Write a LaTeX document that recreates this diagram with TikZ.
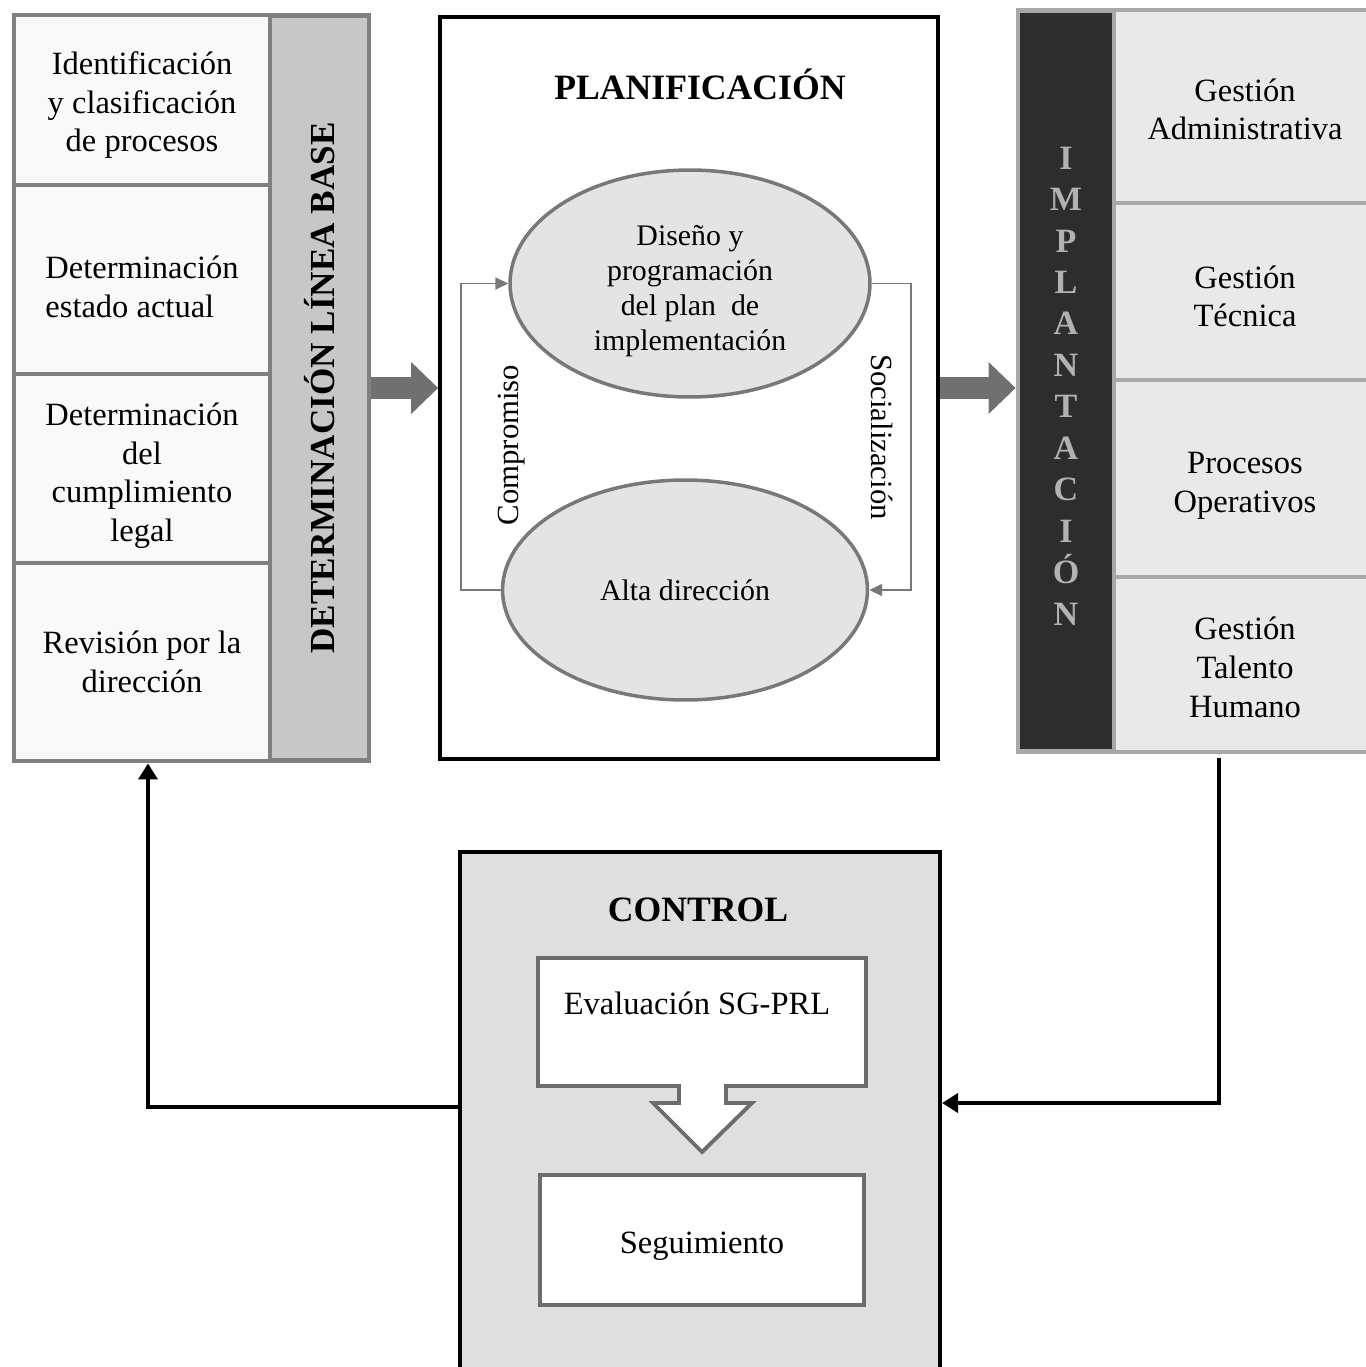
\documentclass[tikz,border=0pt]{standalone}
\usepackage{fontspec}
\setmainfont{Liberation Serif}
\usepackage{tikz}
\usetikzlibrary{positioning, arrows.meta, shapes.geometric}
\definecolor{lineGray}{RGB}{128,128,128}
\definecolor{cellWhite}{RGB}{249,249,249}
\definecolor{barGray}{RGB}{199,199,199}
\definecolor{fatGray}{RGB}{112,112,112}
\definecolor{ovalFill}{RGB}{228,228,228}
\definecolor{ovalLine}{RGB}{120,120,120}
\definecolor{implLine}{RGB}{168,168,168}
\definecolor{implDark}{RGB}{45,45,45}
\definecolor{implCell}{RGB}{233,233,233}
\definecolor{implText}{RGB}{178,178,178}
\definecolor{ctrlFill}{RGB}{223,223,223}
\definecolor{boxLine}{RGB}{108,108,108}
\newcommand{\padtop}[1]{\rule{0pt}{#1}}

\begin{document}
\begin{tikzpicture}[
  x=0.02cm, y=-0.02cm,
  every node/.style={font=\fontsize{18.5}{22}\selectfont},
  lcell/.style={draw=lineGray, line width=2.8pt, fill=cellWhite, minimum width=5.12cm, align=center, inner sep=0pt},
  basebar/.style={draw=lineGray, line width=2.8pt, fill=barGray, minimum width=1.98cm, minimum height=14.92cm},
  rcell/.style={draw=implLine, line width=2.8pt, fill=implCell, minimum width=5.24cm, align=center, inner sep=0pt},
  implbar/.style={draw=implLine, line width=2.8pt, fill=implDark, minimum width=1.92cm, minimum height=14.84cm},
  heading/.style={font=\fontsize{20.3}{24}\selectfont\bfseries},
  oval/.style={ellipse, draw=ovalLine, line width=2pt, fill=ovalFill, align=center, inner sep=0pt, font=\fontsize{17}{20}\selectfont},
  looplbl/.style={font=\fontsize{17.5}{20}\selectfont},
  loopline/.style={draw=ovalLine, line width=0.9pt, -{Triangle[length=0.26cm, width=0.24cm]}},
  fatarrow/.style={draw=fatGray, line width=0.44cm, -{Triangle[line width=0pt, length=0.54cm, width=1.04cm]}},
  feedback/.style={line width=2.2pt, -{Triangle[length=0.32cm, width=0.38cm]}},
  cbox/.style={draw=boxLine, line width=2.2pt, fill=white},
]
  \useasboundingbox (0,0) rectangle (1366,1367);

  \node[lcell, minimum height=3.4cm] (r1) at (142,100)
    {\padtop{19pt}Identificación\\y clasificación\\de procesos};
  \node[lcell, minimum height=3.78cm, align=left] (r2) at (142,279.5)
    {\padtop{21pt}Determinación\\estado actual};
  \node[lcell, minimum height=3.78cm] (r3) at (142,468.5)
    {\padtop{21pt}Determinación\\del\\cumplimiento\\legal};
  \node[lcell, minimum height=3.96cm] (r4) at (142,662)
    {Revisión por la\\dirección};
  \node[basebar] (lbar) at (319.5,388) {};
  \node[font=\fontsize{20}{24}\selectfont\bfseries, rotate=90] (lbartxt) at (lbar.center)
    {DETERMINACIÓN LÍNEA BASE};

  \node[draw, line width=2.2pt, fill=white, minimum width=9.96cm, minimum height=14.84cm] (plan) at (689,388) {};
  \node[heading] (plantxt) at (700,84) {PLANIFICACIÓN};
  \node[oval, minimum width=7.2cm, minimum height=4.54cm] (e1) at (690,283.5)
    {\padtop{20pt}Diseño y\\programación\\del plan \ de\\implementación};
  \node[oval, minimum width=7.3cm, minimum height=4.4cm] (e2) at (685,590) {Alta dirección};
  \draw[loopline] (e2.west) -- ++(-40,0) |- (e1.west);
  \draw[loopline] (e1.east) -- ++(39,0) |- (e2.east);
  \node[looplbl, rotate=90] (comp) at (512,445) {Compromiso};
  \node[looplbl, rotate=-90] (soc) at (882,437) {Socialización};

  \node[implbar] (ibar) at (1066,381) {};
  \node[font=\fontsize{19.4}{23.6}\selectfont\bfseries, text=implText, align=center] (ibartxt) at (1066,386)
    {I\\M\\P\\L\\A\\N\\T\\A\\C\\I\\Ó\\N};
  \node[rcell, minimum height=3.86cm] (c1) at (1245,106.5) {\padtop{16pt}Gestión\\Administrativa};
  \node[rcell, minimum height=3.54cm] (c2) at (1245,291.5) {\padtop{18.5pt}Gestión\\Técnica};
  \node[rcell, minimum height=3.94cm] (c3) at (1245,478.5) {\padtop{20.5pt}Procesos\\Operativos};
  \node[rcell, minimum height=3.5cm] (c4) at (1245,664.5) {\padtop{16pt}Gestión\\Talento\\Humano};

  \draw[fatarrow] (lbar.east) -- (plan.west);
  \draw[fatarrow] (plan.east) -- (plan.east -| ibar.west);

  \node[draw, line width=2.4pt, fill=ctrlFill, minimum width=9.6cm, minimum height=10.56cm] (ctrl) at (700,1116) {};
  \node[heading] (ctrltxt) at (698,910) {CONTROL};
  \draw[cbox] (538,958) -- (866,958) -- (866,1086) -- (726,1086) -- (726,1103) -- (752,1103)
    -- (702,1152) -- (653,1103) -- (679,1103) -- (679,1086) -- (538,1086) -- cycle;
  \node (eval) at (697,1003) {Evaluación SG-PRL};
  \node[cbox, minimum width=6.48cm, minimum height=2.6cm, text height=15pt, text depth=0pt] (segui) at (702,1240) {Seguimiento};

  \coordinate (impout) at (1219,758);
  \draw[feedback] (impout) |- ([yshift=0.26cm]ctrl.east);
  \draw[feedback] ([yshift=0.18cm]ctrl.west) -| ([xshift=0.12cm]r4.south);
\end{tikzpicture}
\end{document}
